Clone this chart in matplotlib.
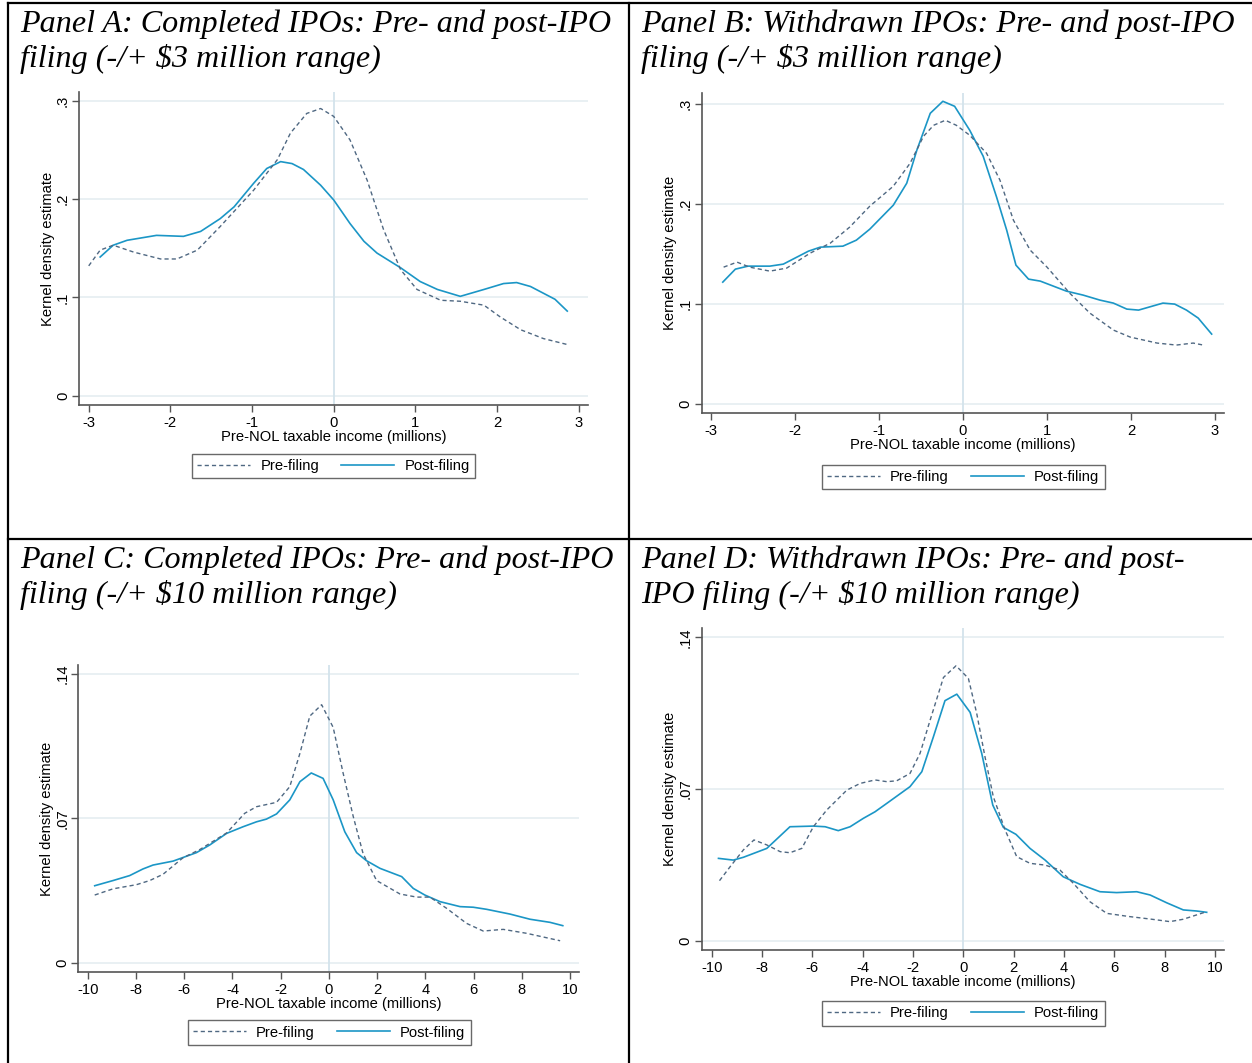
import matplotlib
matplotlib.use("Agg")
import matplotlib.pyplot as plt
from matplotlib.lines import Line2D

# ---------------- data ----------------
a_pre_x = [-3.0, -2.86, -2.70, -2.45, -2.12, -1.92, -1.67, -1.39, -0.98, -0.69, -0.53, -0.33, -0.16,
           0.0, 0.2, 0.41, 0.61, 0.82, 1.02, 1.31, 1.55, 1.84, 2.04, 2.29, 2.57, 2.86]
a_pre_y = [0.132, 0.148, 0.153, 0.146, 0.139, 0.139, 0.148, 0.172, 0.209, 0.240, 0.267, 0.287, 0.292,
           0.284, 0.260, 0.219, 0.169, 0.128, 0.108, 0.097, 0.096, 0.092, 0.080, 0.067, 0.058, 0.052]
a_post_x = [-2.86, -2.70, -2.53, -2.17, -1.84, -1.63, -1.39, -1.22, -0.98, -0.82, -0.65, -0.51, -0.37, -0.16,
            0.0, 0.2, 0.37, 0.53, 0.82, 1.06, 1.27, 1.55, 1.84, 2.08, 2.24, 2.41, 2.71, 2.86]
a_post_y = [0.141, 0.153, 0.158, 0.163, 0.162, 0.167, 0.180, 0.192, 0.216, 0.231, 0.238, 0.236, 0.230, 0.214,
            0.199, 0.175, 0.157, 0.145, 0.130, 0.116, 0.108, 0.101, 0.108, 0.114, 0.115, 0.111, 0.098, 0.086]

b_pre_x = [-2.85, -2.69, -2.54, -2.30, -2.10, -1.82, -1.58, -1.35, -1.11, -0.83, -0.63, -0.47, -0.35, -0.21,
           -0.08, 0.08, 0.28, 0.44, 0.60, 0.80, 1.00, 1.27, 1.51, 1.79, 1.99, 2.31, 2.54, 2.74, 2.86]
b_pre_y = [0.137, 0.142, 0.137, 0.133, 0.136, 0.151, 0.161, 0.177, 0.198, 0.218, 0.241, 0.268, 0.279, 0.284,
           0.279, 0.269, 0.251, 0.224, 0.184, 0.154, 0.137, 0.111, 0.091, 0.074, 0.067, 0.061, 0.059, 0.061, 0.059]
b_post_x = [-2.86, -2.71, -2.56, -2.30, -2.14, -1.84, -1.70, -1.43, -1.27, -1.11, -0.83, -0.67, -0.55, -0.39,
            -0.24, -0.10, 0.08, 0.24, 0.40, 0.52, 0.63, 0.78, 0.92, 1.23, 1.43, 1.63, 1.79, 1.95, 2.09, 2.38,
            2.52, 2.66, 2.80, 2.96]
b_post_y = [0.122, 0.135, 0.138, 0.138, 0.140, 0.153, 0.157, 0.158, 0.164, 0.175, 0.199, 0.221, 0.254, 0.291,
            0.303, 0.298, 0.274, 0.248, 0.207, 0.174, 0.139, 0.125, 0.123, 0.113, 0.109, 0.104, 0.101, 0.095,
            0.094, 0.101, 0.100, 0.094, 0.086, 0.070]

c_pre_x = [-9.71, -8.95, -7.98, -7.43, -6.88, -6.05, -5.35, -4.24, -3.49, -3.00, -2.17, -1.62, -1.20, -0.79,
           -0.30, 0.18, 0.59, 1.01, 1.42, 1.98, 2.95, 3.64, 4.19, 4.88, 5.71, 6.40, 7.23, 8.20, 9.59]
c_pre_y = [0.033, 0.036, 0.038, 0.040, 0.043, 0.051, 0.055, 0.063, 0.0725, 0.0757, 0.0778, 0.0854, 0.1015,
           0.1195, 0.125, 0.114, 0.092, 0.071, 0.053, 0.040, 0.0335, 0.032, 0.032, 0.0266, 0.0193, 0.0156,
           0.0164, 0.0145, 0.0109]
c_post_x = [-9.71, -8.95, -8.26, -7.71, -7.29, -6.46, -5.49, -4.94, -4.24, -3.56, -3.00, -2.59, -2.17, -1.62,
            -1.20, -0.73, -0.24, 0.18, 0.66, 1.15, 1.56, 2.12, 3.02, 3.50, 3.98, 4.61, 5.44, 5.99, 6.54, 7.51,
            8.34, 9.17, 9.70]
c_post_y = [0.0375, 0.040, 0.0424, 0.0456, 0.0475, 0.0494, 0.0535, 0.0572, 0.0628, 0.066, 0.0684, 0.0697,
            0.0722, 0.079, 0.0878, 0.092, 0.0894, 0.079, 0.0636, 0.0535, 0.0496, 0.0459, 0.0419, 0.0362,
            0.033, 0.0298, 0.0274, 0.0271, 0.0261, 0.0238, 0.0213, 0.0198, 0.0182]

d_pre_x = [-9.69, -9.27, -8.74, -8.32, -7.81, -7.28, -6.89, -6.42, -5.96, -5.43, -4.63, -4.10, -3.51, -3.04,
           -2.65, -2.12, -1.72, -1.32, -0.79, -0.29, 0.20, 0.53, 0.86, 1.19, 1.66, 2.12, 2.65, 3.25, 3.84,
           4.37, 5.03, 5.70, 6.62, 7.42, 8.21, 8.74, 9.67]
d_pre_y = [0.0277, 0.0341, 0.0419, 0.0465, 0.0442, 0.0411, 0.0406, 0.0426, 0.0526, 0.0603, 0.0695, 0.0726,
           0.0742, 0.0734, 0.0738, 0.0772, 0.0865, 0.1018, 0.1215, 0.1269, 0.1211, 0.105, 0.0849, 0.0665,
           0.0511, 0.0388, 0.0357, 0.0349, 0.0326, 0.0265, 0.018, 0.0126, 0.0111, 0.0100, 0.0088, 0.0099,
           0.0134]
d_post_x = [-9.73, -9.14, -8.74, -7.81, -6.89, -5.96, -5.49, -4.97, -4.50, -3.97, -3.51, -3.04, -2.12, -1.65,
            -1.19, -0.73, -0.26, 0.27, 0.73, 1.17, 1.59, 2.09, 2.65, 3.25, 3.97, 4.64, 5.43, 6.09, 6.89, 7.42,
            8.08, 8.74, 9.27, 9.67]
d_post_y = [0.038, 0.0372, 0.0385, 0.0426, 0.0526, 0.0529, 0.0526, 0.0508, 0.0526, 0.0565, 0.0595, 0.0634,
            0.0711, 0.078, 0.0941, 0.1108, 0.1138, 0.1054, 0.0865, 0.0626, 0.0523, 0.0491, 0.0426, 0.0372,
            0.0295, 0.026, 0.0226, 0.0222, 0.0226, 0.0211, 0.0175, 0.0142, 0.0137, 0.0131]

titles = ["Panel A: Completed IPOs: Pre- and post-IPO\nfiling (-/+ $3 million range)",
          "Panel B: Withdrawn IPOs: Pre- and post-IPO\nfiling (-/+ $3 million range)",
          "Panel C: Completed IPOs: Pre- and post-IPO\nfiling (-/+ $10 million range)",
          "Panel D: Withdrawn IPOs: Pre- and post-\nIPO filing (-/+ $10 million range)"]
xticks_small = [-3, -2, -1, 0, 1, 2, 3]
xticks_large = [-10, -8, -6, -4, -2, 0, 2, 4, 6, 8, 10]
yticks_small = [0, 0.1, 0.2, 0.3]
ytick_labels_small = ["0", ".1", ".2", ".3"]
yticks_large = [0, 0.07, 0.14]
ytick_labels_large = ["0", ".07", ".14"]
xlabel = "Pre-NOL taxable income (millions)"
ylabel = "Kernel density estimate"
series_names = ["Pre-filing", "Post-filing"]

# ---------------- style ----------------
W, H = 1252, 1063
DPI = 100
PRE_COLOR = "#4f6882"
POST_COLOR = "#1b96c6"
GRID_COLOR = "#e3ecf0"
ZERO_COLOR = "#d3e3ec"
SPINE_COLOR = "#555555"
SANS = ["Liberation Sans", "DejaVu Sans"]
SERIF = ["Liberation Serif", "DejaVu Serif"]
FS = 10.6

fig = plt.figure(figsize=(W / DPI, H / DPI), dpi=DPI)
fig.patch.set_facecolor("white")


def px_rect(left, top, right, bottom):
    return [left / W, 1 - bottom / H, (right - left) / W, (bottom - top) / H]


panels = [
    dict(rect=(79, 92, 588, 405), xlim=(-3.119, 3.114), ylim=(-0.0095, 0.3088),
         xt=xticks_small, yt=yticks_small, ytl=ytick_labels_small,
         pre=(a_pre_x, a_pre_y), post=(a_post_x, a_post_y),
         title_xy=(20, 9.5), leg=(333.5, 466)),
    dict(rect=(701.7, 92.7, 1224, 413.3), xlim=(-3.111, 3.107), ylim=(-0.0093, 0.3116),
         xt=xticks_small, yt=yticks_small, ytl=ytick_labels_small,
         pre=(b_pre_x, b_pre_y), post=(b_post_x, b_post_y),
         title_xy=(641, 9.5), leg=(963, 477)),
    dict(rect=(78.3, 665, 578.7, 972.3), xlim=(-10.39, 10.36), ylim=(-0.00435, 0.1442),
         xt=xticks_large, yt=yticks_large, ytl=ytick_labels_large,
         pre=(c_pre_x, c_pre_y), post=(c_post_x, c_post_y),
         title_xy=(20, 545.5), leg=(329, 1032.5)),
    dict(rect=(701.7, 628.3, 1224, 950), xlim=(-10.397, 10.358), ylim=(-0.0043, 0.1442),
         xt=xticks_large, yt=yticks_large, ytl=ytick_labels_large,
         pre=(d_pre_x, d_pre_y), post=(d_post_x, d_post_y),
         title_xy=(641, 545.5), leg=(963, 1013.5)),
]

for p, title in zip(panels, titles):
    ax = fig.add_axes(px_rect(*p["rect"]))
    ax.set_xlim(*p["xlim"])
    ax.set_ylim(*p["ylim"])
    for y in p["yt"]:
        ax.axhline(y, color=GRID_COLOR, lw=1.1, zorder=0)
    ax.axvline(0, color=ZERO_COLOR, lw=1.3, zorder=0)
    ax.plot(*p["pre"], color=PRE_COLOR, lw=1.0, ls=(0, (3, 2.2)), zorder=3)
    ax.plot(*p["post"], color=POST_COLOR, lw=1.2, zorder=2)
    ax.set_xticks(p["xt"])
    ax.set_xticklabels([str(v) for v in p["xt"]], fontfamily=SANS, fontsize=FS)
    ax.set_yticks(p["yt"])
    ax.set_yticklabels(p["ytl"], fontfamily=SANS, fontsize=FS, rotation=90, va="center")
    ax.tick_params(axis="x", length=5, width=1.0, color=SPINE_COLOR, pad=3)
    ax.tick_params(axis="y", length=5, width=1.0, color=SPINE_COLOR, pad=1.5)
    for s in ["top", "right"]:
        ax.spines[s].set_visible(False)
    for s in ["left", "bottom"]:
        ax.spines[s].set_color(SPINE_COLOR)
        ax.spines[s].set_linewidth(1.2)
    ax.set_xlabel(xlabel, fontfamily=SANS, fontsize=FS, labelpad=0)
    ax.set_ylabel(ylabel, fontfamily=SANS, fontsize=FS, labelpad=1)
    ax.set_facecolor("white")

    tx, ty = p["title_xy"]
    fig.text(tx / W, 1 - ty / H, title, ha="left", va="top", fontfamily=SERIF,
             style="italic", fontsize=23.1, linespacing=1.22)

    handles = [Line2D([], [], color=PRE_COLOR, lw=1.0, ls=(0, (3, 2.2))),
               Line2D([], [], color=POST_COLOR, lw=1.2)]
    lx, ly = p["leg"]
    leg = fig.legend(handles, series_names, loc="center", bbox_to_anchor=(lx / W, 1 - ly / H),
                     ncol=2, frameon=True, fancybox=False, handlelength=3.6, handletextpad=0.7,
                     columnspacing=1.5, borderpad=0.35, prop={"family": SANS, "size": FS})
    leg.get_frame().set_edgecolor("#444444")
    leg.get_frame().set_linewidth(1.0)

# table borders
border_kw = dict(color="black", lw=1.6, transform=fig.transFigure, clip_on=False)
fig.add_artist(Line2D([8 / W, 1], [1 - 3 / H, 1 - 3 / H], **border_kw))
fig.add_artist(Line2D([8 / W, 8 / W], [1 - 3 / H, 0], **border_kw))
fig.add_artist(Line2D([628.5 / W, 628.5 / W], [1 - 3 / H, 0], **border_kw))
fig.add_artist(Line2D([8 / W, 1], [1 - 538.5 / H, 1 - 538.5 / H], **border_kw))

fig.savefig("out.png", dpi=DPI)
